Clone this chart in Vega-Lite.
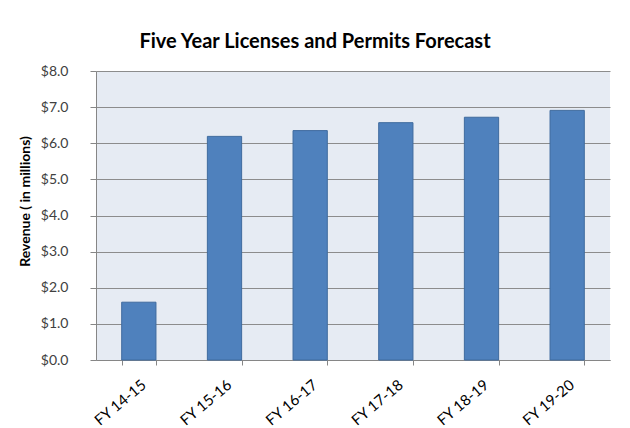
{
  "$schema": "https://vega.github.io/schema/vega-lite/v6.json",
  "width": 514,
  "height": 289,
  "autosize": {"type": "none"},
  "padding": {"left": 96, "top": 71, "right": 20, "bottom": 68},
  "background": "white",
  "title": {
    "text": "Five Year Licenses and Permits Forecast",
    "font": "Lato",
    "fontSize": 20,
    "fontWeight": "bold",
    "color": "#000000",
    "anchor": "middle",
    "dx": -38,
    "offset": 12
  },
  "data": {
    "values": [
      {"year": "FY 14-15", "revenue": 1.6},
      {"year": "FY 15-16", "revenue": 6.19},
      {"year": "FY 16-17", "revenue": 6.35},
      {"year": "FY 17-18", "revenue": 6.57},
      {"year": "FY 18-19", "revenue": 6.72},
      {"year": "FY 19-20", "revenue": 6.91}
    ]
  },
  "mark": {"type": "bar", "color": "#4f81bd", "stroke": "#3f6b9e", "strokeWidth": 1},
  "encoding": {
    "x": {
      "field": "year",
      "type": "nominal",
      "sort": null,
      "scale": {"paddingInner": 0.6, "paddingOuter": 0.3},
      "axis": {
        "title": null,
        "labelAngle": -40,
        "labelAlign": "right",
        "labelBaseline": "top",
        "labelFont": "Lato",
        "labelFontSize": 15,
        "labelColor": "#000000",
        "labelPadding": 12,
        "tickBand": "extent",
        "tickSize": 5,
        "tickColor": "#868686",
        "domainColor": "#868686",
        "grid": false
      }
    },
    "y": {
      "field": "revenue",
      "type": "quantitative",
      "scale": {"domain": [0, 8], "nice": false},
      "axis": {
        "title": "Revenue ( in millions)",
        "titleFont": "Lato",
        "titleFontSize": 14,
        "titleFontWeight": "bold",
        "titleColor": "#000000",
        "titlePadding": 8,
        "titleY": 130,
        "values": [0, 1, 2, 3, 4, 5, 6, 7, 8],
        "format": "$.1f",
        "labelFont": "Lato",
        "labelFontSize": 14,
        "labelColor": "#404040",
        "labelPadding": 22,
        "tickSize": 6,
        "tickColor": "#868686",
        "domainColor": "#868686",
        "grid": true,
        "gridColor": "#8c8c8c",
        "gridWidth": 1
      }
    }
  },
  "config": {
    "view": {"fill": "#e6ebf3", "stroke": null}
  }
}
